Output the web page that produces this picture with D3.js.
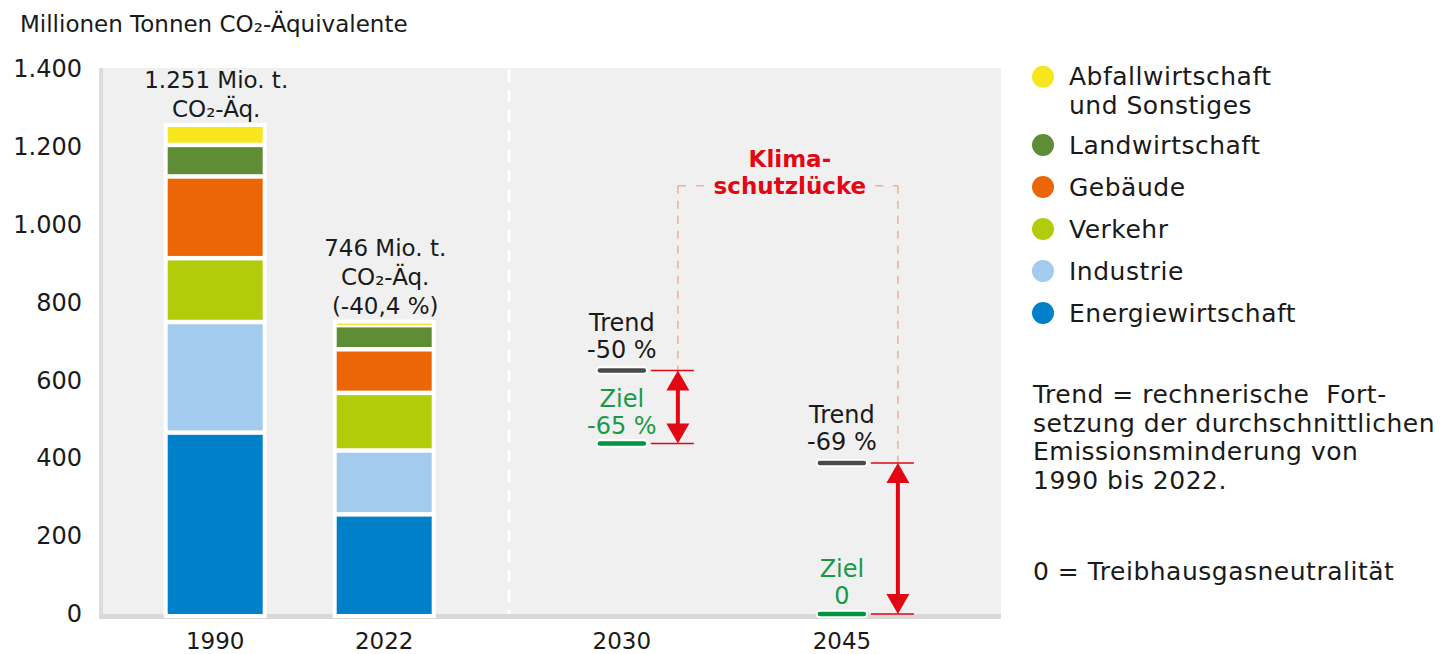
<!DOCTYPE html>
<html>
<head>
<meta charset="utf-8">
<script src="https://cdn.jsdelivr.net/npm/d3@7"></script>
<style>
  body { margin: 0; background: #fff; }
  svg { display: block; font-family: 'DejaVu Sans', sans-serif; }
</style>
</head>
<body>
<div id="chart"></div>
<script>
// data
let histYears = ['1990', '2022'];
let targetYears = ['2030', '2045'];
let sectors = ['Energiewirtschaft', 'Industrie', 'Verkehr', 'Gebäude', 'Landwirtschaft', 'Abfallwirtschaft und Sonstiges'];
let sectorColors = ['#0080c9', '#a2cbee', '#b2cb0a', '#ec6608', '#5f8d35', '#f7e51d'];
let emissions1990 = [466, 284, 164, 210, 81, 46];
let emissions2022 = [256, 164, 148, 112, 62, 4];
let totalLabels = [['1.251 Mio. t.', 'CO₂-Äq.'], ['746 Mio. t.', 'CO₂-Äq.', '(-40,4 %)']];
let baseline1990 = 1251;
let trendPct = [-50, -69];
let trendLabels = ['-50 %', '-69 %'];
let targetPct = [-65, -100];
let targetLabels = ['-65 %', '0'];
let yTicks = [0, 200, 400, 600, 800, 1000, 1200, 1400];
let legendLabels = [['Abfallwirtschaft', 'und Sonstiges'], ['Landwirtschaft'], ['Gebäude'], ['Verkehr'], ['Industrie'], ['Energiewirtschaft']];
let noteLines = ['Trend = rechnerische  Fort-', 'setzung der durchschnittlichen', 'Emissionsminderung von', '1990 bis 2022.'];
let noteZero = '0 = Treibhausgasneutralität';
let bracketLevel = 1100;

let width = 1440, height = 654;
let plot = { left: 100, right: 1001, top: 68, bottom: 614, split: 509 };

let red = '#e30613', green = '#1a9a47', dark = '#474c4b', salmon = '#f3ad96';

let de = d3.formatLocale({ decimal: ',', thousands: '.', grouping: [3], currency: ['', ' €'] });

let svg = d3.select('#chart').append('svg')
  .attr('width', width)
  .attr('height', height);

let y = d3.scaleLinear().domain([0, 1400]).range([plot.bottom, 69]);

let xHist = d3.scalePoint().domain(histYears).range([plot.left, plot.split]).padding(0.71).align(0.48);
let xTarget = d3.scalePoint().domain(targetYears).range([plot.split, plot.right]).padding(0.618).align(0.415);

// plot background
svg.append('rect')
  .attr('x', plot.left).attr('y', plot.top)
  .attr('width', plot.right - plot.left).attr('height', plot.bottom - plot.top)
  .attr('fill', '#f0f0f0');

svg.append('line')
  .attr('x1', plot.left + 1).attr('x2', plot.left + 1)
  .attr('y1', plot.top).attr('y2', plot.bottom + 5)
  .attr('stroke', '#dcdcdc').attr('stroke-width', 4);

svg.append('line')
  .attr('x1', plot.left - 1).attr('x2', plot.right)
  .attr('y1', plot.bottom + 2.5).attr('y2', plot.bottom + 2.5)
  .attr('stroke', '#d9d9d9').attr('stroke-width', 5);

svg.append('line')
  .attr('x1', plot.split).attr('x2', plot.split)
  .attr('y1', plot.top + 2).attr('y2', plot.bottom)
  .attr('stroke', '#fff').attr('stroke-width', 3)
  .attr('stroke-dasharray', '12,8');

// title
svg.append('text')
  .attr('x', 20).attr('y', 32)
  .attr('font-size', 23).attr('fill', '#1a1a1a')
  .text('Millionen Tonnen CO₂-Äquivalente');

// y axis
let yAxis = svg.append('g')
  .attr('transform', 'translate(' + plot.left + ',0)')
  .call(d3.axisLeft(y).tickValues(yTicks).tickSize(0).tickPadding(18).tickFormat(de.format(',')));
yAxis.select('.domain').remove();
yAxis.selectAll('text')
  .attr('font-family', 'DejaVu Sans')
  .attr('font-size', 24)
  .attr('fill', '#1a1a1a');

// x labels
let xLabels = histYears.map(d => ({ label: d, x: xHist(d) }))
  .concat(targetYears.map(d => ({ label: d, x: xTarget(d) })));
svg.append('g').selectAll('text')
  .data(xLabels)
  .enter().append('text')
  .attr('x', d => d.x).attr('y', 649)
  .attr('text-anchor', 'middle')
  .attr('font-size', 23).attr('fill', '#1a1a1a')
  .text(d => d.label);

// stacked bars
let rows = [emissions1990, emissions2022].map((vals, i) => {
  let row = { year: histYears[i] };
  sectors.forEach((s, j) => { row[s] = vals[j]; });
  row.total = d3.sum(vals);
  return row;
});

let barW = 95, frame = 4, gap = 4.5;

svg.append('g').selectAll('rect')
  .data(rows)
  .enter().append('rect')
  .attr('x', d => xHist(d.year) - barW / 2 - frame)
  .attr('y', d => y(d.total) - frame)
  .attr('width', barW + frame * 2)
  .attr('height', d => y(0) - y(d.total) + frame * 2)
  .attr('fill', '#fff');

let series = d3.stack().keys(sectors)(rows);

svg.append('g').selectAll('g')
  .data(series)
  .enter().append('g')
  .attr('fill', (d, i) => sectorColors[i])
  .each(function(s, i) {
    d3.select(this).selectAll('rect')
      .data(s)
      .enter().append('rect')
      .attr('x', d => xHist(d.data.year) - barW / 2)
      .attr('width', barW)
      .attr('y', d => y(d[1]) + (i === sectors.length - 1 ? 0 : gap / 2))
      .attr('height', d => {
        let top = y(d[1]) + (i === sectors.length - 1 ? 0 : gap / 2);
        let bottom = y(d[0]) - (i === 0 ? 0 : gap / 2);
        return Math.max(1.3, bottom - top);
      });
  });

// total labels above bars
rows.forEach((r, i) => {
  let lines = totalLabels[i];
  let lastY = y(r.total) - 10;
  svg.append('g').selectAll('text')
    .data(lines)
    .enter().append('text')
    .attr('x', xHist(r.year) + 1)
    .attr('y', (d, k) => lastY - (lines.length - 1 - k) * 29)
    .attr('text-anchor', 'middle')
    .attr('font-size', 23).attr('fill', '#1a1a1a')
    .text(d => d);
});

// trend / target markers
let targets = targetYears.map((yr, i) => ({
  year: yr,
  x: xTarget(yr),
  trend: baseline1990 * (1 + trendPct[i] / 100),
  target: baseline1990 * (1 + targetPct[i] / 100),
  trendLabel: trendLabels[i],
  targetLabel: targetLabels[i]
}));

let arrowOff = 56;
let by = y(bracketLevel);

// dashed bracket
targets.forEach(t => {
  svg.append('line')
    .attr('x1', t.x + arrowOff).attr('x2', t.x + arrowOff)
    .attr('y1', by).attr('y2', y(t.trend))
    .attr('stroke', salmon).attr('stroke-width', 1.5)
    .attr('stroke-dasharray', '8,7');
});

let bx1 = targets[0].x + arrowOff, bx2 = targets[1].x + arrowOff;
let bmid = (bx1 + bx2) / 2 + 2;

svg.append('text')
  .attr('x', bmid).attr('y', by - 19)
  .attr('text-anchor', 'middle')
  .attr('font-size', 23).attr('font-weight', 'bold').attr('fill', red)
  .text('Klima-');
let gapText = svg.append('text')
  .attr('x', bmid).attr('y', by + 8)
  .attr('text-anchor', 'middle')
  .attr('font-size', 23).attr('font-weight', 'bold').attr('fill', red)
  .text('schutzlücke');
let gw = gapText.node().getComputedTextLength();

[[bx1, bmid - gw / 2 - 9], [bmid + gw / 2 + 9, bx2]].forEach(seg => {
  svg.append('line')
    .attr('x1', seg[0]).attr('x2', seg[1])
    .attr('y1', by).attr('y2', by)
    .attr('stroke', salmon).attr('stroke-width', 1.5)
    .attr('stroke-dasharray', '8,10');
});

function marker(x, yv, color) {
  svg.append('line')
    .attr('x1', x - 22).attr('x2', x + 22)
    .attr('y1', yv).attr('y2', yv)
    .attr('stroke', '#fff').attr('stroke-width', 8.5)
    .attr('stroke-linecap', 'round');
  svg.append('line')
    .attr('x1', x - 22).attr('x2', x + 22)
    .attr('y1', yv).attr('y2', yv)
    .attr('stroke', color).attr('stroke-width', 4.5)
    .attr('stroke-linecap', 'round');
}

function twoLines(x, yv, first, second, color, off) {
  svg.append('text')
    .attr('x', x).attr('y', yv - off)
    .attr('text-anchor', 'middle')
    .attr('font-size', 24).attr('fill', color)
    .text(first);
  svg.append('text')
    .attr('x', x).attr('y', yv - off + 27)
    .attr('text-anchor', 'middle')
    .attr('font-size', 24).attr('fill', color)
    .text(second);
}

targets.forEach(t => {
  let yt = y(t.trend), yz = y(t.target);
  let ax = t.x + arrowOff;

  // red reference lines
  [yt, yz].forEach(v => {
    svg.append('line')
      .attr('x1', t.x + 29).attr('x2', t.x + 72)
      .attr('y1', v).attr('y2', v)
      .attr('stroke', red).attr('stroke-width', 1.6);
  });

  // double arrow
  let headH = 20, headW = 11.5;
  svg.append('line')
    .attr('x1', ax).attr('x2', ax)
    .attr('y1', yt + headH - 2).attr('y2', yz - headH + 2)
    .attr('stroke', red).attr('stroke-width', 4);
  svg.append('path')
    .attr('d', 'M' + ax + ',' + yt + 'L' + (ax + headW) + ',' + (yt + headH) + 'L' + (ax - headW) + ',' + (yt + headH) + 'Z')
    .attr('fill', red);
  svg.append('path')
    .attr('d', 'M' + ax + ',' + yz + 'L' + (ax + headW) + ',' + (yz - headH) + 'L' + (ax - headW) + ',' + (yz - headH) + 'Z')
    .attr('fill', red);

  marker(t.x, yt, dark);
  marker(t.x, yz, '#00963f');
  twoLines(t.x, yt, 'Trend', t.trendLabel, '#1a1a1a', 40);
  twoLines(t.x, yz, 'Ziel', t.targetLabel, green, 37);
});

// legend
let legend = svg.append('g').attr('class', 'legend');
let ly = 76.7;
legendLabels.forEach((lines, i) => {
  let g = legend.append('g').attr('transform', 'translate(1043,' + ly + ')');
  g.append('circle').attr('r', 11).attr('fill', sectorColors[sectors.length - 1 - i]);
  g.selectAll('text')
    .data(lines)
    .enter().append('text')
    .attr('x', 26).attr('y', (d, k) => 8.7 + k * 29)
    .attr('font-size', 25).attr('letter-spacing', 0.5).attr('fill', '#1a1a1a')
    .text(d => d);
  ly += 42 + (lines.length - 1) * 26.3;
});

// notes
svg.append('g').selectAll('text')
  .data(noteLines)
  .enter().append('text')
  .attr('x', 1033).attr('y', (d, i) => 403 + i * 28.7)
  .attr('font-size', 25).attr('letter-spacing', 0.5).attr('fill', '#1a1a1a')
  .style('white-space', 'pre')
  .text(d => d);

svg.append('text')
  .attr('x', 1033).attr('y', 580)
  .attr('font-size', 25).attr('letter-spacing', 0.5).attr('fill', '#1a1a1a')
  .text(noteZero);
</script>
</body>
</html>
